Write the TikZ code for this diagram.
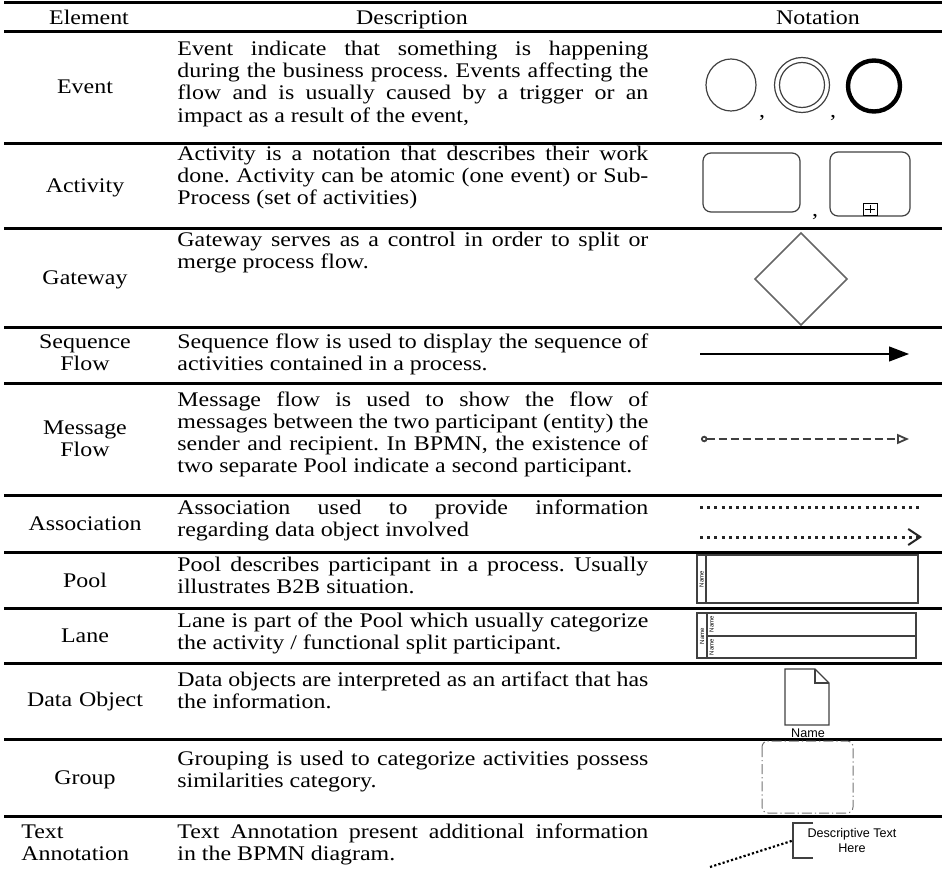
\documentclass[tikz,border=0pt]{standalone}
\usepackage{fontspec}
\setmainfont{Liberation Serif}[FakeStretch=1.15]
\newfontfamily\notefont{Liberation Sans}
\usetikzlibrary{arrows.meta}
\frenchspacing

\begin{document}
\begin{tikzpicture}[x=0.5pt,y=-0.5pt,
        every node/.style={font=\fontsize{10.4}{11}\selectfont},
        rule/.style={line width=1.5pt},
        elem/.style={anchor=base, inner sep=0pt, text width=70pt, align=center},
        desc/.style={anchor=base west, inner sep=0pt, text width=235.5pt, align=justify},
        sym/.style={draw=black!75, line width=0.6pt},
        tiny/.style={rotate=90, inner sep=0pt, font=\notefont\fontsize{3}{3}\selectfont},
        note/.style={inner sep=0pt, align=center, font=\notefont\fontsize{6.3}{7.5}\selectfont},
        dots/.style={line width=1.5pt, dash pattern=on 1.5pt off 2.1pt}]
        \useasboundingbox (0,0) rectangle (947,872);

        % table rules
        \foreach \y in {3,32,143,228,327,383,495,552,608,663,739,816}
            \draw [rule] (4,\y) -- (942,\y);

        % header
        \node [anchor=base] (hElem) at (89,25) {Element};
        \node [anchor=base] (hDesc) at (412,25) {Description};
        \node [anchor=base] (hNot) at (818,25) {Notation};

        % element names
        \node [elem] (eEvent) at (85,94) {Event};
        \node [elem] (eAct) at (85,192) {Activity};
        \node [elem] (eGate) at (85,284) {Gateway};
        \node [elem] (eSeq) at (85,348) {Sequence\\Flow};
        \node [elem] (eMsg) at (85,434) {Message\\Flow};
        \node [elem] (eAssoc) at (85,530) {Association};
        \node [elem] (ePool) at (85,587) {Pool};
        \node [elem] (eLane) at (85,642) {Lane};
        \node [elem] (eData) at (85,706) {Data Object};
        \node [elem] (eGroup) at (85,784) {Group};
        \node [elem, anchor=base west, align=left] (eText) at (21,838) {Text\\Annotation};

        % descriptions
        \node [desc] (dEvent) at (177,56) {Event indicate that something is happening\linebreak
            during the business process. Events affecting the\linebreak
            flow and is usually caused by a trigger or an\linebreak
            impact as a result of the event,};
        \node [desc] (dAct) at (177,160) {Activity is a notation that describes their work\linebreak
            done. Activity can be atomic (one event) or Sub-\linebreak
            Process (set of activities)};
        \node [desc] (dGate) at (177,246) {Gateway serves as a control in order to split or\linebreak
            merge process flow.};
        \node [desc] (dSeq) at (177,348) {Sequence flow is used to display the sequence of\linebreak
            activities contained in a process.};
        \node [desc] (dMsg) at (177,406) {Message flow is used to show the flow of\linebreak
            messages between the two participant (entity) the\linebreak
            sender and recipient. In BPMN, the existence of\linebreak
            two separate Pool indicate a second participant.};
        \node [desc] (dAssoc) at (177,514) {Association used to provide information\linebreak
            regarding data object involved};
        \node [desc] (dPool) at (177,571) {Pool describes participant in a process. Usually\linebreak
            illustrates B2B situation.};
        \node [desc] (dLane) at (177,627) {Lane is part of the Pool which usually categorize\linebreak
            the activity / functional split participant.};
        \node [desc] (dData) at (177,686) {Data objects are interpreted as an artifact that has\linebreak
            the information.};
        \node [desc] (dGroup) at (177,765) {Grouping is used to categorize activities possess\linebreak
            similarities category.};
        \node [desc] (dText) at (177,838) {Text Annotation present additional information\linebreak
            in the BPMN diagram.};

        % event symbols
        \draw [sym] (731,85) ellipse [x radius=25, y radius=26];
        \draw [sym] (802,85) ellipse [x radius=27.5, y radius=27.5];
        \draw [sym] (802,85) ellipse [x radius=22.5, y radius=22.5];
        \draw [sym, draw=black, line width=2.2pt] (874,86) ellipse [x radius=26, y radius=25.5];
        \node [anchor=base] (cEv1) at (762,118) {,};
        \node [anchor=base] (cEv2) at (833,118) {,};

        % activity symbols
        \draw [sym, rounded corners=4pt] (703,153) rectangle (800,212);
        \draw [sym, rounded corners=4pt] (830,152) rectangle (910,216);
        \draw [line width=0.4pt] (863,203) rectangle (877,215);
        \draw [line width=0.4pt] (870,205) -- (870,213) (865,209) -- (875,209);
        \node [anchor=base] (cAct) at (815,216) {,};

        % gateway
        \draw [sym, draw=black!60, line width=0.8pt] (801,233) -- (847,279) -- (801,325) -- (755,279) -- cycle;

        % sequence flow
        \coordinate (sqA) at (700,354);
        \coordinate (sqB) at (909,354);
        \draw [line width=0.6pt, -{Triangle[length=10pt,width=7.5pt]}] (sqA) -- (sqB);

        % message flow
        \coordinate (msA) at (701,439);
        \coordinate (msB) at (909,439);
        \draw [draw=black!75, line width=0.9pt, dash pattern=on 4pt off 2pt,
            {Circle[open,length=3.2pt]}-{Triangle[open,length=6pt,width=5pt]}] (msA) -- (msB);

        % association
        \coordinate (asA) at (700,507);
        \coordinate (asB) at (920,507);
        \coordinate (asC) at (700,537);
        \coordinate (asD) at (922,537);
        \draw [dots, draw=black!85] (asA) -- (asB);
        \draw [dots, draw=black!85, -{Straight Barb[length=6pt,width=8pt,line width=1pt]}] (asC) -- (asD);

        % pool
        \draw [sym, line width=0.8pt] (697,555) rectangle (918,603);
        \draw [sym, line width=0.8pt] (706,555) -- (706,603);
        \node [tiny] (pName) at (701.5,579) {Name};

        % lane
        \draw [sym, line width=0.8pt] (697,613) rectangle (916,658);
        \draw [sym, line width=0.8pt] (707,613) -- (707,658);
        \draw [sym, line width=0.8pt] (707,636) -- (916,636);
        \node [tiny] (lPool) at (702,636) {Name};
        \node [tiny] (lName1) at (711.5,624) {Name};
        \node [tiny] (lName2) at (711.5,647) {Name};

        % data object
        \draw [sym] (785,669) -- (815,669) -- (829,683) -- (829,725) -- (785,725) -- cycle;
        \draw [sym] (815,669) -- (815,683) -- (829,683);
        \node [note] (dName) at (808,733) {Name};

        % group
        \draw [draw=black!55, line width=0.5pt, dash pattern=on 5pt off 1.5pt on 0.6pt off 1.5pt,
            rounded corners=3pt] (762,741) rectangle (853,813);

        % text annotation
        \coordinate (brTop) at (813,823);
        \coordinate (brBot) at (813,858);
        \coordinate (brMid) at (793,840.5);
        \coordinate (taTail) at (710,867);
        \draw [sym] (brTop) -- (793,823) -- (793,858) -- (brBot);
        \node [note] (taText) at (852,840) {Descriptive Text\\Here};
        \draw [line width=1.1pt, dash pattern=on 1.1pt off 1.1pt] (taTail) -- (brMid);
\end{tikzpicture}
\end{document}
